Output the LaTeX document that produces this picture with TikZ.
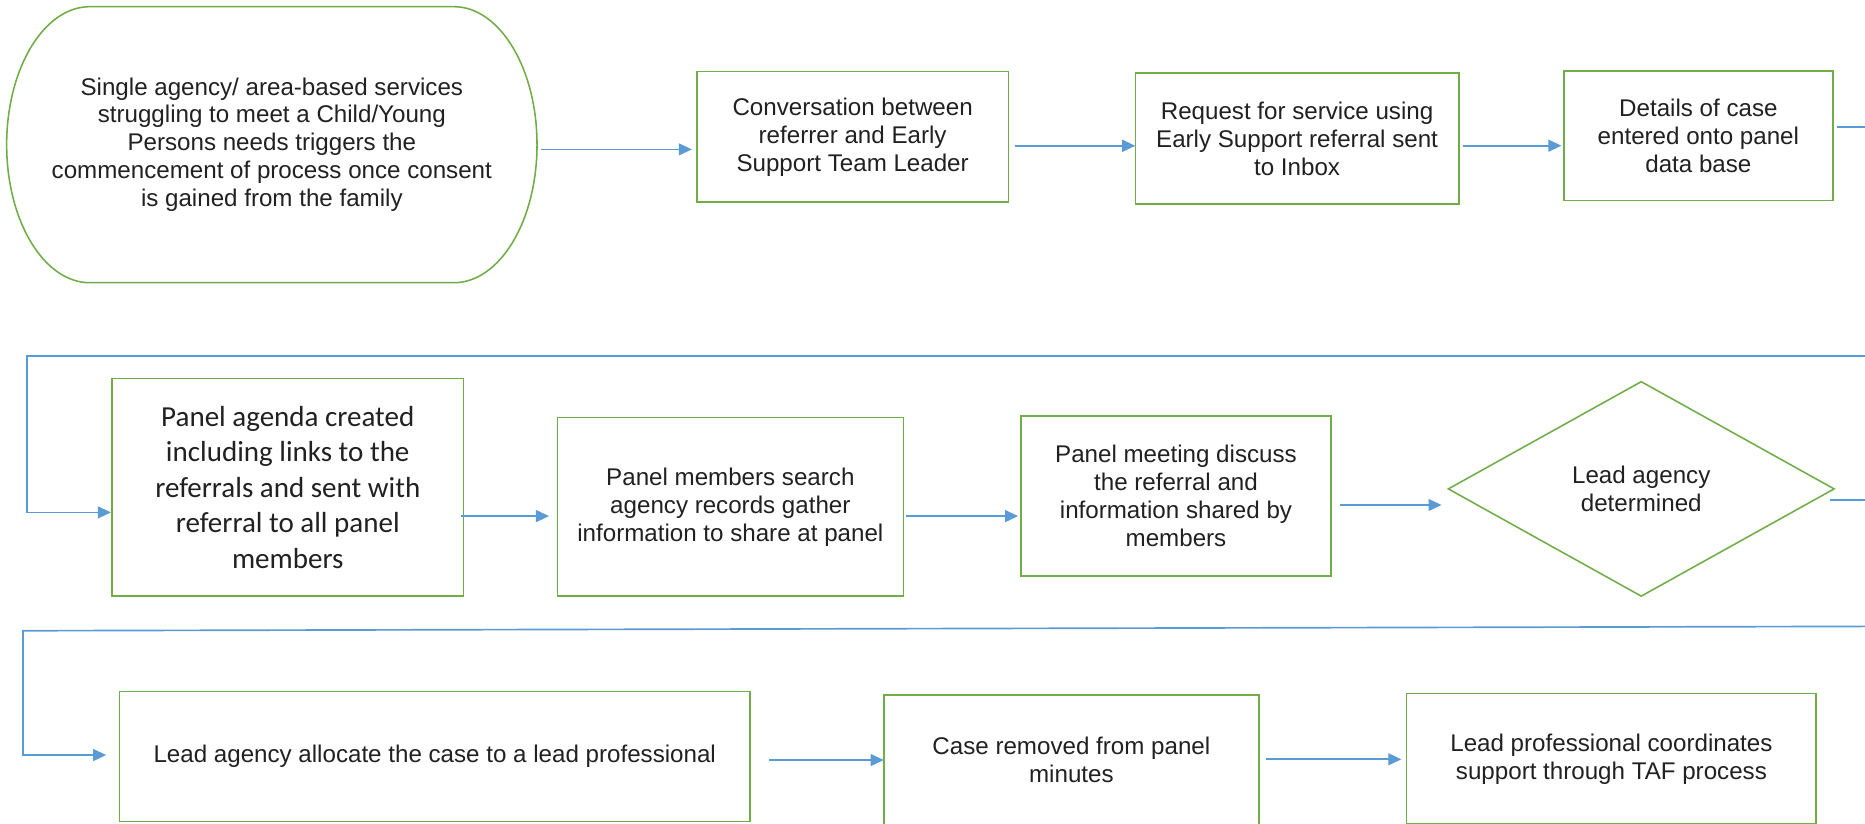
\documentclass[tikz,border=0pt]{standalone}
\usepackage{fontspec}
\setmainfont{Liberation Sans}
\newfontfamily\calfont{Carlito}
\usetikzlibrary{arrows.meta,shapes.geometric}
\definecolor{boxgreen}{RGB}{112,173,71}
\definecolor{flowblue}{RGB}{91,155,213}
\definecolor{txtgray}{RGB}{33,33,33}
\tikzset{
  stepbox/.style={draw=boxgreen, line width=1.3pt, fill=white, align=center, text=txtgray,
    inner sep=0pt, outer sep=0pt, font=\fontsize{20.3}{23.5}\selectfont},
  calbox/.style={stepbox, font=\calfont\fontsize{24.4}{29.9}\selectfont},
  decision/.style={stepbox, shape=diamond},
  termtext/.style={align=center, text=txtgray, inner sep=0pt, outer sep=0pt,
    font=\fontsize{20.3}{23.5}\selectfont},
  termline/.style={draw=boxgreen, line width=1.3pt},
  flow/.style={draw=flowblue, line width=1.4pt, -{Triangle[length=11pt,width=10pt]}},
}
\begin{document}
\begin{tikzpicture}[x=1pt,y=1pt]
\useasboundingbox (0,0) rectangle (1568,-692);
\fill[white] (0,0) rectangle (1568,-692);
\clip (0,0) rectangle (1568,-692);

% row 1
\node[termtext, minimum width=445.9pt, minimum height=232.1pt] (S) at (228.55,-121.65)
  {Single agency/ area-based services\\struggling to meet a Child/Young\\Persons needs triggers the\\commencement of process once consent\\is gained from the family};
\draw[termline] ([xshift=70pt]S.north west) -- ([xshift=-70pt]S.north east)
  arc[start angle=90, end angle=-90, x radius=70pt, y radius=116.05pt]
  -- ([xshift=70pt]S.south west)
  arc[start angle=270, end angle=90, x radius=70pt, y radius=116.05pt] -- cycle;

\node[stepbox, minimum width=261.7pt, minimum height=109.8pt] (B1) at (716.85,-115.1)
  {Conversation between\\referrer and Early\\Support Team Leader};
\node[stepbox, minimum width=272pt, minimum height=109.9pt] (B2) at (1090.5,-116.55)
  {Request for service using\\Early Support referral sent\\to Inbox};
\node[stepbox, minimum width=226.2pt, minimum height=109pt] (B3) at (1427.9,-114.2)
  {Details of case\\entered onto panel\\data base};

% row 2
\node[calbox, minimum width=295.3pt, minimum height=183.1pt] (P1) at (241.95,-409.65)
  {Panel agenda created\\including links to the\\referrals and sent with\\referral to all panel\\members};
\node[stepbox, minimum width=290.9pt, minimum height=149.9pt] (P2) at (614.05,-426.15)
  {Panel members search\\agency records gather\\information to share at panel};
\node[stepbox, minimum width=260.6pt, minimum height=134.5pt] (P3) at (988.7,-417.05)
  {Panel meeting discuss\\the referral and\\information shared by\\members};
\node[decision, minimum width=324.3pt, minimum height=180.3pt] (D) at (1379.85,-411.05)
  {Lead agency\\determined};

% row 3
\node[stepbox, minimum width=530.2pt, minimum height=109.3pt] (L1) at (365.5,-636.15)
  {Lead agency allocate the case to a lead professional};
\node[stepbox, minimum width=315.5pt, minimum height=109.4pt] (L2) at (900.75,-639)
  {Case removed from panel\\minutes};
\node[stepbox, minimum width=344.4pt, minimum height=110pt] (L3) at (1354.8,-638)
  {Lead professional coordinates\\support through TAF process};

% connectors row 1
\draw[flow, shorten <=3.7pt, shorten >=4.3pt] (S.east |- 0,-125.6) -- (B1.west |- 0,-125.6);
\draw[flow, shorten <=5.3pt] (B1.east |- 0,-122.6) -- (B2.west |- 0,-122.6);
\draw[flow, shorten <=3.5pt, shorten >=2pt] (B2.east |- 0,-122.5) -- (B3.west |- 0,-122.5);
\draw[flow, shorten <=3.5pt, shorten >=1pt] (B3.east |- 0,-107) -- (1590,-107) -- (1590,-299.4)
  -- (22.5,-299.4) -- (22.5,-430.8) -- (P1.west |- 0,-430.8);

% connectors row 2
\draw[flow, shorten <=-1.9pt, shorten >=7pt] (P1.east |- 0,-433.9) -- (P2.west |- 0,-433.9);
\draw[flow, shorten <=2.4pt, shorten >=2.4pt] (P2.east |- 0,-433.9) -- (P3.west |- 0,-433.9);
\draw[flow, shorten <=8pt, shorten >=5.7pt] (P3.east |- 0,-424.6) -- (D.west |- 0,-424.6);
\draw[flow, shorten <=-3.4pt, shorten >=11.1pt] (D.east |- 0,-420.4) -- (1590,-420.4) -- (1590,-526.6)
  -- (19.3,-530.3) -- (19.3,-634.8) -- (L1.west |- 0,-634.8);

% connectors row 3
\draw[flow, shorten <=16pt] (L1.east |- 0,-639) -- (L2.west |- 0,-639);
\draw[flow, shorten <=5.5pt, shorten >=4.4pt] (L2.east |- 0,-638.4) -- (L3.west |- 0,-638.4);
\end{tikzpicture}
\end{document}
